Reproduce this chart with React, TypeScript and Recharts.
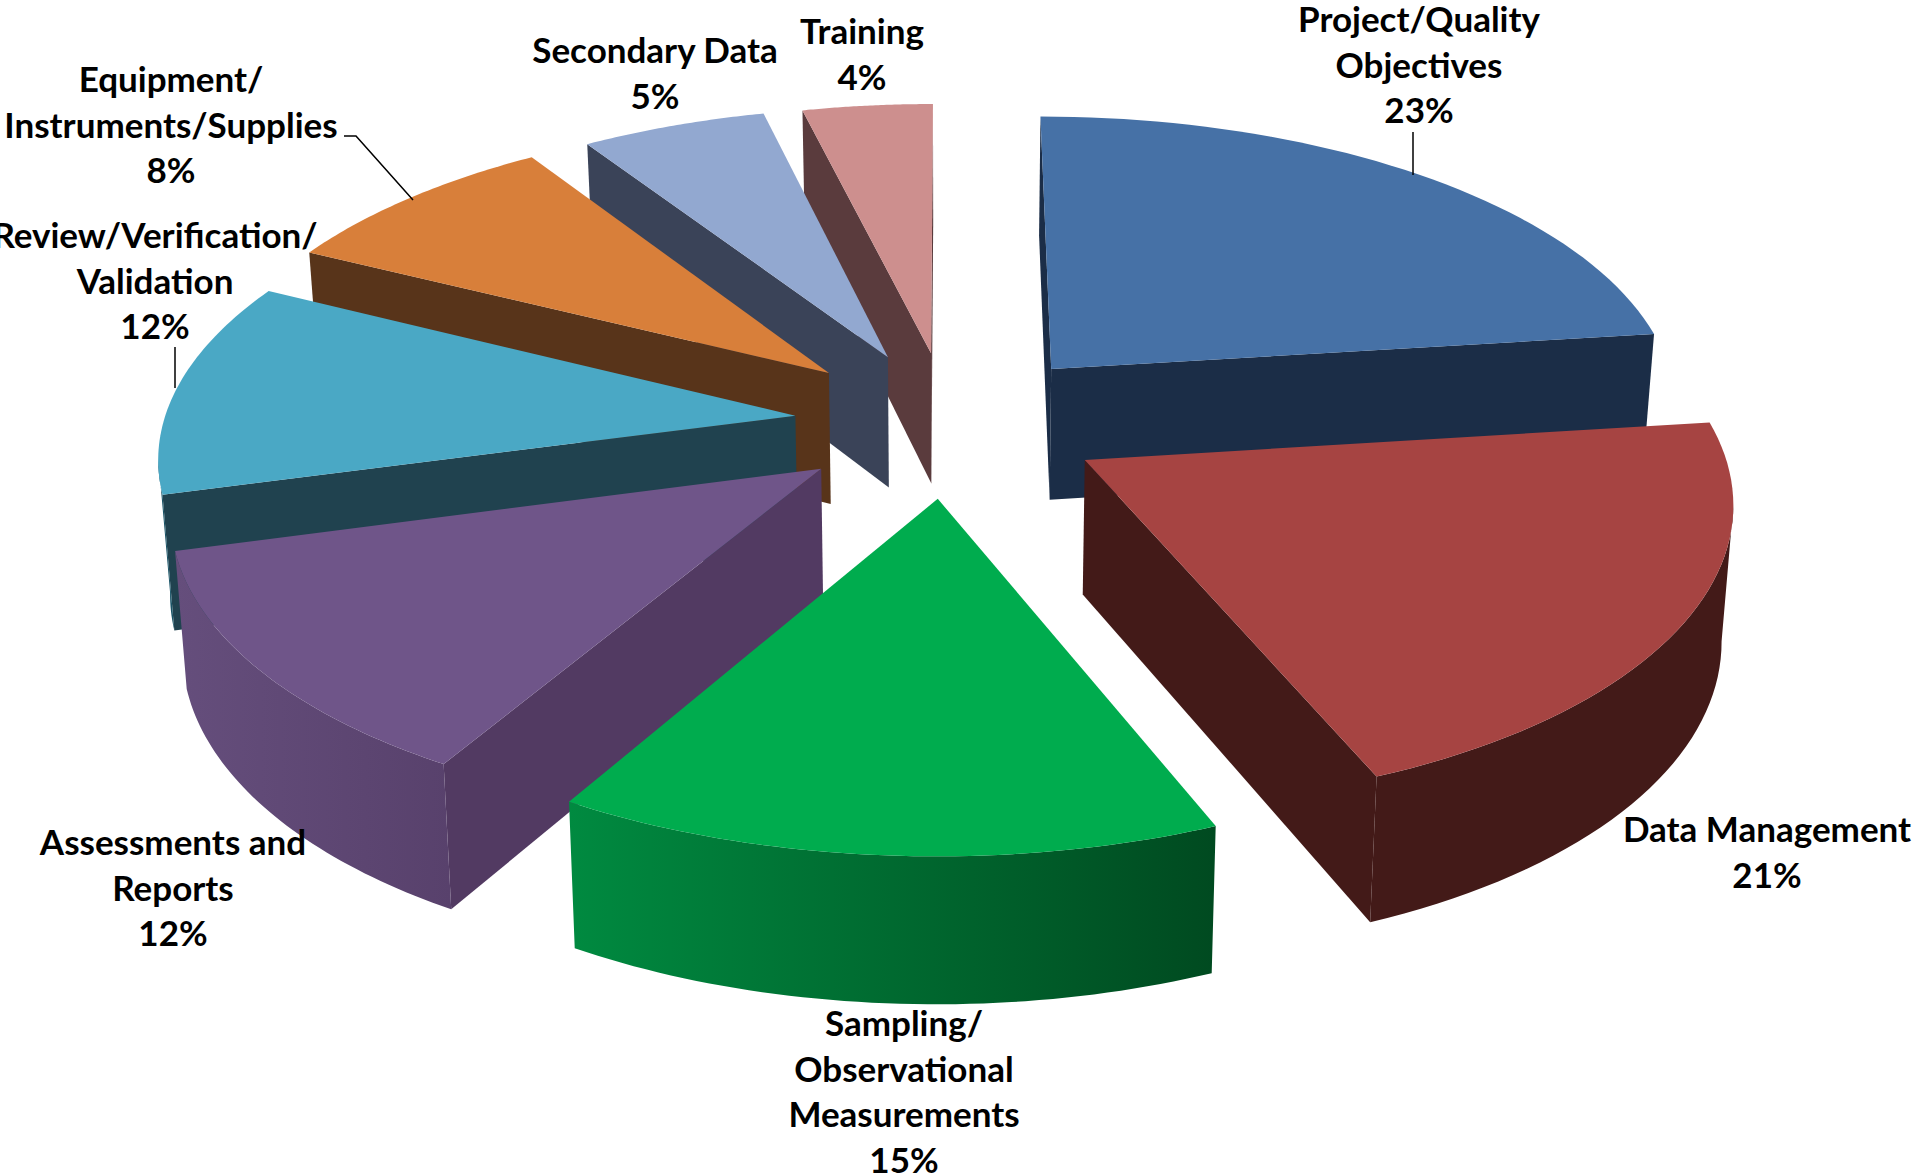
import React from 'react';
import { PieChart, Pie } from 'recharts';

// z-order of drawing follows data order (back slices first)
const categories = ['Project/Quality Objectives', 'Training', 'Secondary Data', 'Equipment/Instruments/Supplies', 'Review/Verification/Validation', 'Assessments and Reports', 'Sampling/Observational Measurements', 'Data Management'];
const values = [23.0, 3.8, 5.4, 8.4, 11.6, 12.4, 14.6, 20.8];
const labelLines = [
  ['Project/Quality', 'Objectives'],
  ['Training'],
  ['Secondary Data'],
  ['Equipment/', 'Instruments/Supplies'],
  ['Review/Verification/', 'Validation'],
  ['Assessments and', 'Reports'],
  ['Sampling/', 'Observational', 'Measurements'],
  ['Data Management'],
];
const topColors = ['#4671A6', '#CD8F8E', '#92A8D0', '#D87F3A', '#4AA8C5', '#6F5589', '#00AC4E', '#A64442'];
const radialColors = ['#1B2D47', '#5A3B3D', '#3A4358', '#58341A', '#20424F', '#523A62', '#006030', '#431A18'];
const arcLeftColors = ['#1B2D47', '#5A3B3D', '#3A4358', '#58341A', '#1B5568', '#654E7C', '#008A40', '#431A18'];
const arcRightColors = ['#1B2D47', '#5A3B3D', '#3A4358', '#58341A', '#1B5568', '#58416C', '#004A20', '#431A18'];
const explode = [0.25, 0.245, 0.25, 0.26, 0.245, 0.25, 0.25, 0.245];
const labelX = [1419, 862, 655, 171, 155, 173, 904, 1767];
const labelFirstY = [32, 44, 63, 92, 248, 855, 1036, 842];
const leaders = [
  [[1413, 132], [1413, 175]],
  [],
  [],
  [[344, 136], [356, 136], [413, 200]],
  [[175, 347], [175, 388]],
  [],
  [],
  [],
];

const chartData = categories.map((name, i) => ({ name, value: values[i] }));

const YRATIO = 0.4665;
const PERSP = 0.12;
const DEPTH = 133;
const RAD = Math.PI / 180;

function Slice3D(props: any) {
  const { cx, cy, outerRadius, startAngle, endAngle, index } = props;
  const i: number = index ?? 0;
  const mid = ((startAngle + endAngle) / 2) * RAD;
  const ox = explode[i] * Math.cos(mid);
  const oy = -explode[i] * Math.sin(mid);
  const top = (wx: number, wy: number): [number, number] => {
    const d = 1 - PERSP * wy;
    return [cx + (outerRadius * wx) / d, cy + (outerRadius * YRATIO * wy) / d];
  };
  const bot = (wx: number, wy: number): [number, number] => {
    const [x, y] = top(wx, wy);
    return [cx + (x - cx) * 0.985, y + DEPTH * (1 + 0.09 * wy)];
  };
  const N = 48;
  const pts: [number, number][] = [];
  for (let k = 0; k <= N; k++) {
    const a = (startAngle + ((endAngle - startAngle) * k) / N) * RAD;
    pts.push([ox + Math.cos(a), oy - Math.sin(a)]);
  }
  const apex: [number, number] = [ox, oy];
  const inner: [number, number] = [ox + 0.5 * Math.cos(mid), oy - 0.5 * Math.sin(mid)];
  const camY = 1 / PERSP;
  const visible = (p: [number, number], q: [number, number]) => {
    const mx = (p[0] + q[0]) / 2;
    const my = (p[1] + q[1]) / 2;
    let nx = q[1] - p[1];
    let ny = -(q[0] - p[0]);
    if (nx * (mx - inner[0]) + ny * (my - inner[1]) < 0) {
      nx = -nx;
      ny = -ny;
    }
    return nx * (0 - mx) + ny * (camY - my) > 0;
  };
  const quad = (p: [number, number], q: [number, number]) =>
    [top(p[0], p[1]), top(q[0], q[1]), bot(q[0], q[1]), bot(p[0], p[1])].map((c) => c.join(',')).join(' ');

  const walls: React.ReactNode[] = [];
  const first = pts[0];
  const last = pts[N];
  if (visible(apex, first)) walls.push(<polygon key="r1" points={quad(apex, first)} fill={radialColors[i]} />);
  if (visible(apex, last)) walls.push(<polygon key="r2" points={quad(apex, last)} fill={radialColors[i]} />);

  // contiguous visible run of the outer wall as one polygon with a gradient
  const runTop: [number, number][] = [];
  const runBot: [number, number][] = [];
  for (let k = 0; k < N; k++) {
    if (!visible(pts[k], pts[k + 1])) continue;
    if (runTop.length === 0) {
      runTop.push(top(pts[k][0], pts[k][1]));
      runBot.push(bot(pts[k][0], pts[k][1]));
    }
    runTop.push(top(pts[k + 1][0], pts[k + 1][1]));
    runBot.push(bot(pts[k + 1][0], pts[k + 1][1]));
  }
  const gradId = `wall-${i}`;
  let grad = null;
  if (runTop.length > 1) {
    const xs = [...runTop, ...runBot].map((p) => p[0]);
    grad = (
      <defs>
        <linearGradient id={gradId} gradientUnits="userSpaceOnUse" x1={Math.min(...xs)} y1={0} x2={Math.max(...xs)} y2={0}>
          <stop offset="0%" stopColor={arcLeftColors[i]} />
          <stop offset="100%" stopColor={arcRightColors[i]} />
        </linearGradient>
      </defs>
    );
    const poly = [...runTop, ...[...runBot].reverse()].map((c) => c.join(',')).join(' ');
    walls.push(<polygon key="arc" points={poly} fill={`url(#${gradId})`} />);
  }
  const topPts = [apex, ...pts].map((p) => top(p[0], p[1]).join(',')).join(' ');
  return (
    <g>
      {grad}
      {walls}
      <polygon points={topPts} fill={topColors[i]} />
    </g>
  );
}

function SliceLabel(props: any) {
  const i: number = props.index ?? 0;
  const lines = [...labelLines[i], `${Math.round(values[i])}%`];
  const lead = leaders[i];
  return (
    <g>
      {lead.length > 0 && (
        <polyline points={lead.map((p) => p.join(',')).join(' ')} fill="none" stroke="#000" strokeWidth={1.5} />
      )}
      <text
        textAnchor="middle"
        fontFamily="Lato, 'Open Sans', sans-serif"
        fontWeight={700}
        fontSize={35}
        fill="#000"
      >
        {lines.map((l, k) => (
          <tspan key={k} x={labelX[i]} y={labelFirstY[i] + k * 45.5}>
            {l}
          </tspan>
        ))}
      </text>
    </g>
  );
}

export default function App() {
  return (
    <div style={{ position: 'absolute', left: 0, top: 0, width: 1917, height: 1176, background: '#fff', overflow: 'hidden' }}>
      <PieChart width={1917} height={1176} margin={{ top: 0, right: 0, bottom: 0, left: 0 }}>
        <Pie
          data={chartData}
          dataKey="value"
          nameKey="name"
          cx={949}
          cy={423}
          innerRadius={0}
          outerRadius={632}
          startAngle={7.2}
          endAngle={367.2}
          stroke="none"
          isAnimationActive={false}
          shape={Slice3D}
          activeShape={Slice3D}
          inactiveShape={Slice3D}
          label={SliceLabel}
          labelLine={false}
        />
      </PieChart>
    </div>
  );
}
